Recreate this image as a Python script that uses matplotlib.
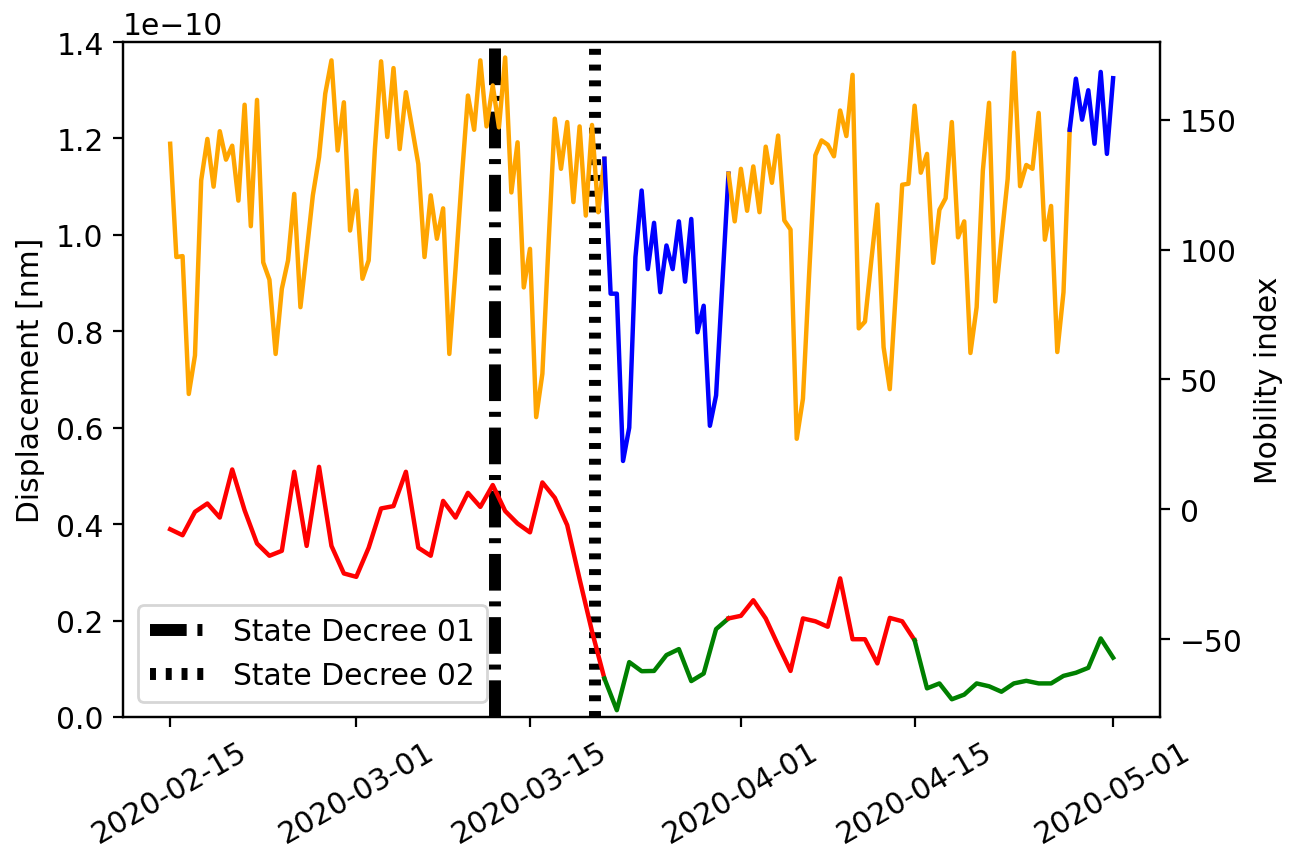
import matplotlib
matplotlib.use("Agg")
import matplotlib.pyplot as plt
import matplotlib.dates as mdates
import numpy as np
import pandas as pd

plt.rcParams['font.size'] = 10.7

# displacement, sampled every 12 h from 2020-02-15 to 2020-05-01 (units of 1e-10)
disp_e10 = [
    1.189, 0.954, 0.956, 0.670, 0.750, 1.113, 1.199, 1.100, 1.215, 1.156,
    1.185, 1.071, 1.270, 1.018, 1.280, 0.943, 0.907, 0.753, 0.888, 0.947,
    1.085, 0.850, 0.964, 1.082, 1.161, 1.293, 1.362, 1.175, 1.275, 1.009,
    1.092, 0.909, 0.947, 1.178, 1.360, 1.203, 1.346, 1.178, 1.296, 1.222,
    1.147, 0.954, 1.082, 0.992, 1.055, 0.753, 0.929, 1.116, 1.289, 1.218,
    1.362, 1.225, 1.310, 1.223, 1.368, 1.088, 1.192, 0.891, 0.971, 0.622,
    0.712, 0.983, 1.241, 1.137, 1.234, 1.068, 1.225, 1.040, 1.228, 1.047,
    1.158, 0.878, 0.878, 0.531, 0.600, 0.954, 1.092, 0.929, 1.025, 0.881,
    0.978, 0.929, 1.028, 0.903, 1.033, 0.798, 0.853, 0.604, 0.667, 0.897,
    1.127, 1.028, 1.137, 1.050, 1.142, 1.047, 1.183, 1.108, 1.206, 1.030,
    1.011, 0.577, 0.660, 0.919, 1.165, 1.196, 1.187, 1.163, 1.258, 1.205,
    1.332, 0.806, 0.820, 0.944, 1.063, 0.767, 0.680, 0.888, 1.104, 1.106,
    1.268, 1.129, 1.168, 0.942, 1.052, 1.076, 1.234, 0.995, 1.028, 0.755,
    0.850, 1.133, 1.274, 0.862, 0.992, 1.116, 1.378, 1.101, 1.145, 1.137,
    1.253, 0.990, 1.060, 0.757, 0.881, 1.218, 1.324, 1.239, 1.300, 1.189,
    1.338, 1.168, 1.325,
]

# mobility index, daily from 2020-02-15 to 2020-05-01
mobility = [
    -7.6, -9.9, -0.9, 2.3, -3.1, 15.4, -0.3, -13.1, -17.8, -15.9,
    14.5, -14.0, 16.4, -14.0, -24.6, -25.9, -14.7, 0.4, 1.3, 14.5,
    -14.7, -17.8, 3.3, -3.1, 6.4, 1.0, 9.4, -0.6, -5.4, -8.8,
    10.4, 4.5, -6.0, -26.8, -46.9, -65.0, -77.2, -58.7, -62.2, -62.1,
    -56.0, -53.7, -66.0, -63.1, -46.0, -41.9, -40.9, -34.9, -41.9, -52.2,
    -62.1, -41.9, -43.0, -45.1, -26.5, -49.9, -49.9, -59.2, -41.7, -43.0,
    -50.3, -68.8, -66.9, -73.0, -71.2, -66.9, -68.0, -70.1, -66.9, -65.9,
    -66.9, -66.9, -64.0, -62.8, -60.9, -49.6, -57.0,
]

disp_time = pd.date_range('2020-02-15', '2020-05-01', freq='12h')
mob_time = pd.date_range('2020-02-15', '2020-05-01', freq='D')

# (start index, end index, colour)
disp_segments = [(0, 70, 'orange'), (70, 90, 'blue'), (90, 145, 'orange'), (145, 152, 'blue')]
mob_segments = [(0, 35, 'red'), (35, 45, 'green'), (45, 60, 'red'), (60, 76, 'green')]

decree_dates = ['2020-03-12 05:00', '2020-03-20 05:30']
decree_labels = ['State Decree 01', 'State Decree 02']
decree_styles = [(0, (3.07, 0.9, 0.42, 0.9)), (0, (0.5, 0.82))]

disp = np.array(disp_e10) * 1e-10
mob = np.array(mobility)

fig = plt.figure(figsize=(6.495, 4.27), dpi=200)
ax = fig.add_axes([0.0947, 0.1593, 0.7985, 0.7903])

for d, lab, ls in zip(decree_dates, decree_labels, decree_styles):
    ax.axvline(pd.Timestamp(d), color='k', linewidth=4.3, linestyle=ls, label=lab)

for s, e, c in disp_segments:
    ax.plot(disp_time[s:e + 1], disp[s:e + 1], color=c, linewidth=1.6)

ax.set_ylim(0, 1.4e-10)
ax.set_ylabel('Displacement [nm]')
ax.legend(loc='lower left')

ax2 = ax.twinx()
for s, e, c in mob_segments:
    ax2.plot(mob_time[s:e + 1], mob[s:e + 1], color=c, linewidth=1.6)
ax2.set_ylim(-79.8, 179.8)
ax2.set_ylabel('Mobility index')

ax.xaxis.set_major_locator(mdates.DayLocator(bymonthday=[1, 15]))
ax.xaxis.set_major_formatter(mdates.DateFormatter('%Y-%m-%d'))
for t in ax.get_xticklabels():
    t.set_rotation(30)

fig.savefig('out.png', dpi=200)
